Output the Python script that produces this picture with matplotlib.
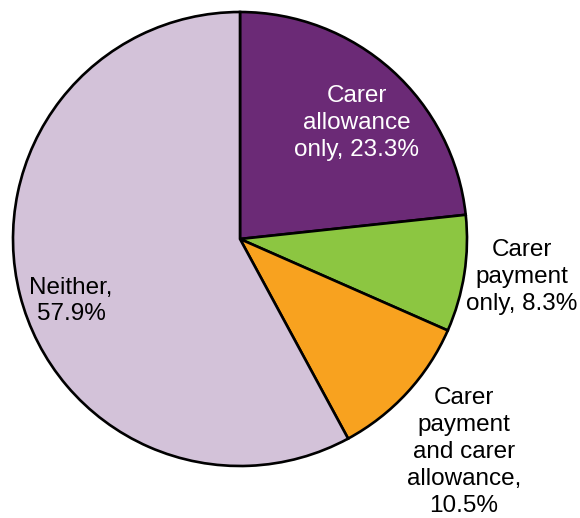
import matplotlib
matplotlib.use('Agg')
from matplotlib import pyplot as plt

plt.rcParams['font.family'] = ['Liberation Sans', 'DejaVu Sans']

# slices, clockwise from 12 o'clock
labels = ['Carer\nallowance\nonly, 23.3%',
          'Carer\npayment\nonly, 8.3%',
          'Carer\npayment\nand carer\nallowance,\n10.5%',
          'Neither,\n57.9%']
values = [23.3, 8.3, 10.5, 57.9]
colors = ['#6B2A76', '#8CC641', '#F8A21F', '#D3C2D9']
text_colors = ['white', 'black', 'black', 'black']

# where each label sits (pixel coords, y measured from the top)
label_pos = [(357, 123), (522, 277), (464, 452), (71, 301)]

W, H = 580, 518
fig = plt.figure(figsize=(W / 100, H / 100), dpi=100)
ax = fig.add_axes([0, 0, 1, 1])

ax.pie(values, colors=colors, startangle=90, counterclock=False,
       center=(240, H - 239), radius=227,
       wedgeprops=dict(edgecolor='black', linewidth=1.9))

for lab, (x, y), c in zip(labels, label_pos, text_colors):
    ax.text(x, H - y, lab, ha='center', va='center', fontsize=17.5,
            color=c, linespacing=1.28)

ax.set_xlim(0, W)
ax.set_ylim(0, H)
ax.set_aspect('equal')
ax.axis('off')

plt.savefig('out.png', dpi=100)
